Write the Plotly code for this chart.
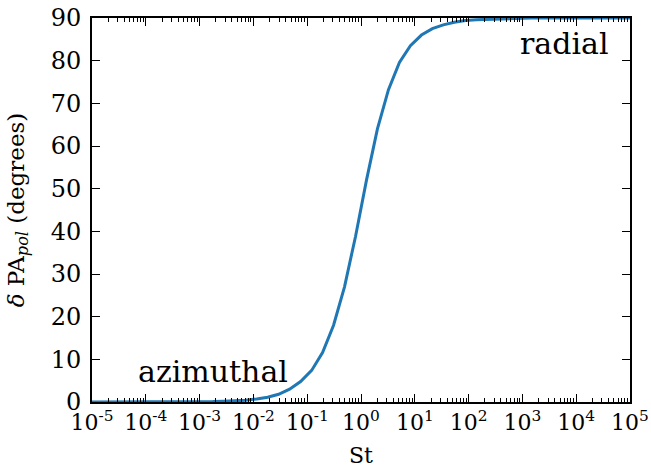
import plotly.graph_objects as go

# Stokes number samples (log-spaced, ~0.204 decade step)
st = [1.00e-05, 1.60e-05, 2.56e-05, 4.09e-05, 6.55e-05, 1.05e-04, 1.68e-04, 2.68e-04,
      4.29e-04, 6.87e-04, 1.10e-03, 1.76e-03, 2.81e-03, 4.50e-03, 7.20e-03, 1.15e-02,
      1.84e-02, 2.94e-02, 4.71e-02, 7.54e-02, 1.21e-01, 1.93e-01, 3.09e-01, 4.94e-01,
      7.91e-01, 1.265, 2.02, 3.24, 5.18, 8.29, 13.3, 21.2, 33.9, 54.3, 86.9,
      139.0, 222.0, 356.0, 569.0, 910.0, 1460.0, 2330.0, 3730.0, 5960.0, 9540.0,
      15300.0, 24400.0, 39100.0, 62500.0, 100000.0]
dpa = [0.0, 0.0, 0.0, 0.0, 0.0, 0.0, 0.0, 0.0, 0.0, 0.05, 0.1, 0.1, 0.2, 0.3, 0.4, 0.7,
       1.1, 1.8, 3.0, 4.8, 7.4, 11.6, 18.0, 27.0, 38.8, 52.0, 64.0, 73.2, 79.6, 83.5,
       86.0, 87.5, 88.4, 89.0, 89.4, 89.6, 89.7, 89.8, 89.9, 89.9, 90.0, 90.0, 90.0,
       90.0, 90.0, 90.0, 90.0, 90.0, 90.0, 90.0]

x_exps = [-5, -4, -3, -2, -1, 0, 1, 2, 3, 4, 5]
x_tickvals = [10.0 ** e for e in x_exps]
x_ticktext = ["10<sup>%d</sup>" % e for e in x_exps]
x_minor = [m * 10.0 ** e for e in range(-5, 5) for m in range(2, 10)]
y_ticks = [0, 10, 20, 30, 40, 50, 60, 70, 80, 90]

FONT = "DejaVu Serif"

fig = go.Figure()
fig.add_trace(go.Scatter(x=st, y=dpa, mode="lines",
                         line=dict(color="#1f77b4", width=3), showlegend=False))

fig.add_annotation(x=-4.18, y=7.2, xref="x", yref="y", text="azimuthal",
                   showarrow=False, xanchor="left", yanchor="middle",
                   font=dict(family=FONT, size=30, color="black"))
fig.add_annotation(x=4.65, y=84, xref="x", yref="y", text="radial",
                   showarrow=False, xanchor="right", yanchor="middle",
                   font=dict(family=FONT, size=30, color="black"))

fig.update_layout(
    width=651, height=474,
    margin=dict(l=92, r=21, t=18, b=72),
    paper_bgcolor="white", plot_bgcolor="white",
    font=dict(family=FONT, color="black"),
    xaxis=dict(type="log", range=[-5, 5], tickmode="array",
               tickvals=x_tickvals, ticktext=x_ticktext, automargin=False,
               ticklabeloverflow="allow",
               ticks="inside", ticklen=8, tickwidth=1, tickcolor="black",
               showline=True, linecolor="black", linewidth=2, mirror="ticks",
               showgrid=False, zeroline=False,
               tickfont=dict(family=FONT, size=22),
               minor=dict(tickmode="array", tickvals=x_minor, ticks="inside",
                          ticklen=4, tickwidth=1, tickcolor="black", showgrid=False),
               title=dict(text="St", font=dict(family=FONT, size=22), standoff=13)),
    yaxis=dict(range=[0, 90], tickmode="array", tickvals=y_ticks, automargin=False,
               ticklabeloverflow="allow", ticklabelstandoff=4,
               ticks="inside", ticklen=8, tickwidth=1, tickcolor="black",
               showline=True, linecolor="black", linewidth=2, mirror="ticks",
               showgrid=False, zeroline=False,
               tickfont=dict(family=FONT, size=24),
               title=dict(text="<i>δ</i> PA<sub><i>pol</i></sub> (degrees)",
                          font=dict(family=FONT, size=23), standoff=20)),
)

# remove the browser's default 8px body margin so the figure fills the window
fig.write_html("out.html", config={"displayModeBar": False},
               post_script="document.body.style.margin='0';")
